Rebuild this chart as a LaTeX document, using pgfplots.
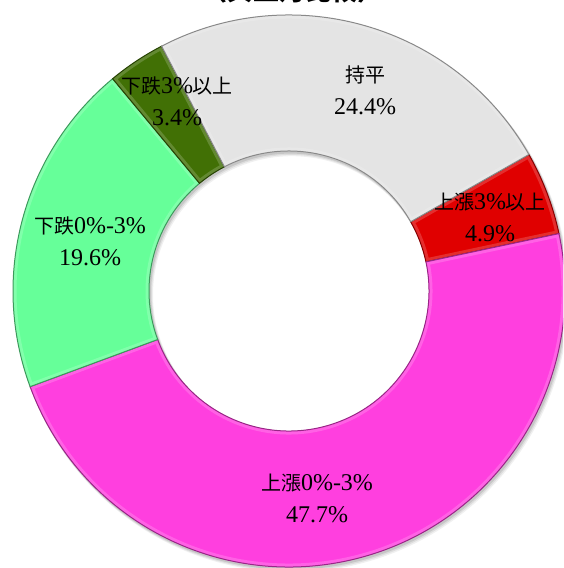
\documentclass[border=0pt]{standalone}
\usepackage{pgfplots}
\pgfplotsset{compat=1.18}
\usepackage{pgfplotstable}
\usepackage{fontspec}
\setmainfont{Liberation Serif}
\newfontfamily\cjk{Noto Sans CJK TC}
\definecolor{cRed}{HTML}{E00000}
\definecolor{cPink}{HTML}{FF3FDF}
\definecolor{cGreen}{HTML}{66FF99}
\definecolor{cDark}{HTML}{417005}
\definecolor{cGray}{HTML}{E4E4E4}
\colorlet{slice0}{cRed}
\colorlet{slice1}{cPink}
\colorlet{slice2}{cGreen}
\colorlet{slice3}{cDark}
\colorlet{slice4}{cGray}
\pgfplotstableread[col sep=comma]{
share,value
up3,4.9
up03,47.7
dn03,19.6
dn3,3.4
flat,24.4
}\piedata
\newcommand\zh[1]{{\cjk\fontsize{20}{32}\selectfont #1}}
\begin{document}
\begin{tikzpicture}
\useasboundingbox (0,0) rectangle (563pt,568pt);
\clip (0,0) rectangle (563pt,568pt);
\xdef\cum{29.64}
\foreach \i in {0,...,4}{%
  \pgfplotstablegetelem{\i}{value}\of\piedata
  \pgfmathsetmacro{\endang}{\cum-3.6*\pgfplotsretval}%
  \expandafter\xdef\csname sa\i\endcsname{\cum}%
  \expandafter\xdef\csname ea\i\endcsname{\endang}%
  \xdef\cum{\endang}%
}
\begin{axis}[at={(0,0)}, anchor=south west, width=563pt, height=568pt,
  scale only axis, xmin=0, xmax=563, ymin=0, ymax=568, hide axis, clip=false]
\pgfplotsextra{
  \begin{scope}[shift={(axis cs:289,277)}]
    \foreach \s/\o in {4/0.06,3/0.08,2/0.1}{
      \fill[black, opacity=\o, even odd rule, shift={(\s pt*0.7,-\s pt)}] (0,0) circle (276pt+\s pt*0.3) (0,0) circle (140pt-\s pt*0.3);
    }
  \end{scope}
  \foreach \i in {0,...,4}{
    \edef\A{\csname sa\i\endcsname}\edef\B{\csname ea\i\endcsname}
    \begin{scope}[shift={(axis cs:289,277)}]
      \fill[slice\i] (\A:276pt) arc[start angle=\A, end angle=\B, radius=276pt] -- (\B:140pt) arc[start angle=\B, end angle=\A, radius=140pt] -- cycle;
      \begin{scope}
        \clip (\A:276pt) arc[start angle=\A, end angle=\B, radius=276pt] -- (\B:140pt) arc[start angle=\B, end angle=\A, radius=140pt] -- cycle;
        \draw[line width=7pt, slice\i!70!white, opacity=0.6] (\A:276pt) arc[start angle=\A, end angle=\B, radius=276pt] -- (\B:140pt) arc[start angle=\B, end angle=\A, radius=140pt] -- cycle;
      \end{scope}
      \draw[line width=1pt, slice\i!60!black] (\A:276pt) arc[start angle=\A, end angle=\B, radius=276pt] -- (\B:140pt) arc[start angle=\B, end angle=\A, radius=140pt] -- cycle;
    \end{scope}
  }
}
\begin{scope}[every node/.style={align=center, font=\fontsize{24}{32}\selectfont, inner sep=0pt}]
\node at (axis cs:365,478) {\zh{持平}\\24.4\%};
\node at (axis cs:177,467) {\zh{下跌}3\%\zh{以上}\\3.4\%};
\node at (axis cs:490,351) {\zh{上漲}3\%\zh{以上}\\4.9\%};
\node at (axis cs:90,327) {\zh{下跌}0\%-3\%\\19.6\%};
\node at (axis cs:317,70) {\zh{上漲}0\%-3\%\\47.7\%};
\node[anchor=base, font=\cjk\bfseries\fontsize{26}{30}\selectfont] at (axis cs:292,567) {（與上月比較）};
\end{scope}
\end{axis}
\end{tikzpicture}
\end{document}
